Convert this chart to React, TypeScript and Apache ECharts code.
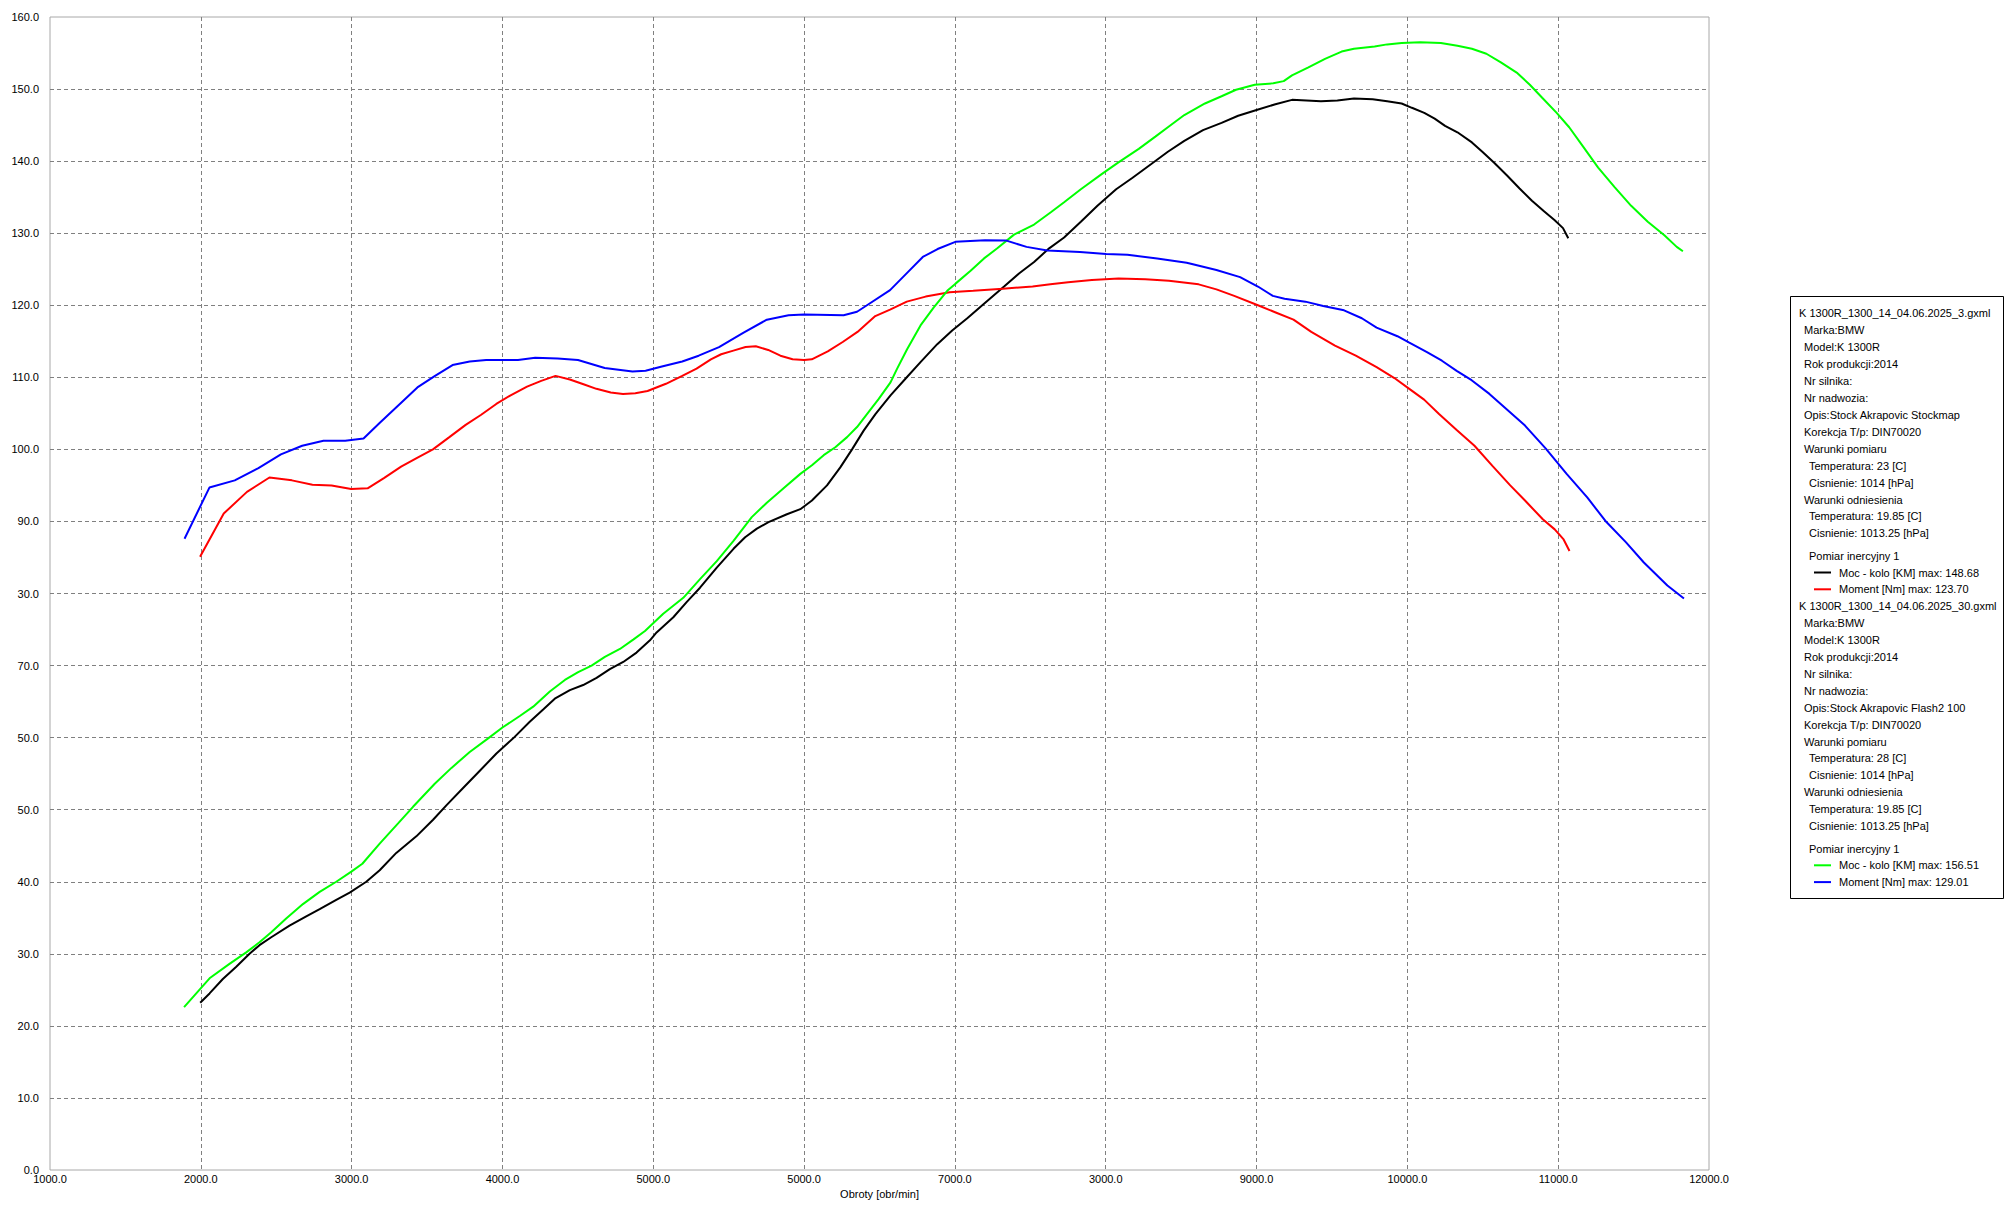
import React, { useEffect, useRef } from 'react';
import * as echarts from 'echarts';

// ---------- data ----------
const X_TICK_LABELS = ['1000.0', '2000.0', '3000.0', '4000.0', '5000.0', '5000.0', '7000.0', '3000.0', '9000.0', '10000.0', '11000.0', '12000.0'];
const Y_TICK_LABELS = ['0.0', '10.0', '20.0', '30.0', '40.0', '50.0', '50.0', '70.0', '30.0', '90.0', '100.0', '110.0', '120.0', '130.0', '140.0', '150.0', '160.0'];

// File 1 (Stockmap): power (black) and torque (red)
const POWER_1: [number, number][] = [
  [1996, 23.2], [2058, 24.5], [2146, 26.5], [2235, 28.2], [2323, 30.0], [2389, 31.2], [2467, 32.3], [2588, 33.9], [2699, 35.2], [2788, 36.2],
  [2898, 37.5], [2987, 38.5], [3097, 40.0], [3186, 41.6], [3296, 44.0], [3429, 46.3], [3540, 48.6], [3628, 50.6], [3739, 53.0], [3850, 55.4],
  [3960, 57.8], [4071, 59.9], [4181, 62.2], [4270, 63.9], [4347, 65.4], [4447, 66.6], [4535, 67.3], [4624, 68.3], [4712, 69.5], [4801, 70.5],
  [4889, 71.8], [4978, 73.5], [5022, 74.6], [5133, 76.7], [5221, 78.8], [5310, 80.8], [5421, 83.6], [5532, 86.2], [5609, 87.8], [5687, 89.0],
  [5764, 89.9], [5886, 91.0], [5975, 91.7], [6052, 92.9], [6152, 95.0], [6240, 97.5], [6318, 100.0], [6395, 102.6], [6473, 104.9], [6573, 107.5],
  [6672, 109.8], [6772, 112.1], [6883, 114.6], [6982, 116.5], [7082, 118.2], [7193, 120.2], [7326, 122.6], [7425, 124.4], [7525, 126.0], [7625, 127.9],
  [7724, 129.4], [7835, 131.6], [7945, 133.8], [8069, 136.1], [8178, 137.7], [8302, 139.6], [8412, 141.3], [8521, 142.8], [8645, 144.3], [8768, 145.3],
  [8878, 146.3], [9000, 147.1], [9125, 147.9], [9235, 148.5], [9331, 148.4], [9427, 148.3], [9536, 148.4], [9646, 148.68], [9770, 148.6], [9866, 148.3],
  [9962, 148.0], [10030, 147.4], [10112, 146.7], [10181, 145.9], [10250, 144.9], [10332, 144.0], [10428, 142.6], [10497, 141.3], [10579, 139.7], [10661, 138.0],
  [10744, 136.2], [10826, 134.5], [10908, 133.0], [10977, 131.8], [11032, 130.7], [11067, 129.3],
];

const TORQUE_1: [number, number][] = [
  [1995, 85.1], [2152, 91.1], [2306, 94.1], [2455, 96.1], [2604, 95.7], [2740, 95.1], [2867, 95.0], [2997, 94.5], [3106, 94.6], [3214, 96.0],
  [3328, 97.6], [3431, 98.8], [3539, 100.0], [3648, 101.7], [3756, 103.4], [3859, 104.8], [3959, 106.3], [4054, 107.5], [4163, 108.7], [4257, 109.5],
  [4352, 110.2], [4447, 109.7], [4542, 109.0], [4623, 108.4], [4718, 107.9], [4799, 107.7], [4881, 107.8], [4962, 108.1], [5084, 109.1], [5192, 110.2],
  [5287, 111.2], [5382, 112.5], [5450, 113.2], [5531, 113.7], [5612, 114.2], [5680, 114.3], [5762, 113.8], [5843, 113.0], [5924, 112.5], [6000, 112.4],
  [6051, 112.5], [6157, 113.6], [6256, 114.9], [6354, 116.3], [6472, 118.5], [6570, 119.4], [6681, 120.5], [6806, 121.2], [6964, 121.8], [7121, 122.0],
  [7318, 122.3], [7515, 122.6], [7633, 122.9], [7751, 123.2], [7908, 123.5], [8085, 123.7], [8262, 123.6], [8419, 123.4], [8616, 122.9], [8734, 122.2],
  [8852, 121.3], [9009, 120.0], [9127, 119.0], [9245, 118.0], [9363, 116.3], [9520, 114.4], [9658, 113.0], [9796, 111.4], [9914, 109.9], [10013, 108.4],
  [10111, 106.9], [10210, 104.9], [10327, 102.7], [10445, 100.5], [10564, 97.7], [10682, 95.0], [10780, 92.9], [10898, 90.3], [10977, 88.9], [11036, 87.5],
  [11075, 85.9],
];

// File 2 (Flash2 100): power (green) and torque (blue)
const POWER_2: [number, number][] = [
  [1889, 22.6], [2058, 26.6], [2190, 28.6], [2301, 30.2], [2389, 31.6], [2467, 33.0], [2566, 34.9], [2677, 36.9], [2788, 38.6], [2898, 40.0],
  [2998, 41.4], [3071, 42.5], [3186, 45.3], [3308, 48.1], [3407, 50.4], [3551, 53.6], [3662, 55.8], [3783, 58.0], [3905, 59.9], [4000, 61.4],
  [4115, 63.0], [4204, 64.3], [4314, 66.4], [4414, 68.0], [4502, 69.1], [4591, 70.0], [4679, 71.2], [4779, 72.3], [4867, 73.6], [4945, 74.8],
  [5066, 77.2], [5199, 79.4], [5310, 82.0], [5421, 84.5], [5532, 87.3], [5653, 90.6], [5753, 92.6], [5864, 94.6], [5975, 96.6], [6052, 97.8],
  [6130, 99.2], [6207, 100.3], [6285, 101.7], [6351, 103.1], [6417, 104.9], [6495, 107.0], [6573, 109.3], [6617, 111.2], [6683, 113.9], [6772, 117.2],
  [6860, 119.7], [6949, 122.0], [7004, 123.0], [7104, 124.8], [7193, 126.5], [7281, 127.9], [7392, 129.8], [7525, 131.2], [7636, 132.9], [7724, 134.3],
  [7835, 136.1], [7973, 138.2], [8082, 139.8], [8219, 141.7], [8329, 143.4], [8412, 144.7], [8521, 146.4], [8658, 148.0], [8768, 149.0], [8864, 149.9],
  [8988, 150.6], [9111, 150.8], [9180, 151.1], [9235, 151.9], [9344, 153.0], [9454, 154.2], [9564, 155.2], [9646, 155.6], [9783, 155.9], [9866, 156.2],
  [9962, 156.4], [10085, 156.51], [10222, 156.4], [10332, 156.0], [10428, 155.6], [10524, 154.9], [10620, 153.7], [10730, 152.2], [10812, 150.6], [10894, 148.8],
  [10990, 146.7], [11073, 144.7], [11169, 141.9], [11265, 139.1], [11374, 136.4], [11484, 133.8], [11594, 131.6], [11704, 129.7], [11786, 128.1], [11827, 127.5],
];

const TORQUE_2: [number, number][] = [
  [1892, 87.6], [2057, 94.7], [2225, 95.7], [2382, 97.4], [2531, 99.3], [2672, 100.5], [2813, 101.2], [2957, 101.2], [3079, 101.5], [3187, 103.7],
  [3309, 106.1], [3436, 108.6], [3553, 110.2], [3669, 111.7], [3783, 112.2], [3892, 112.4], [4103, 112.4], [4217, 112.7], [4366, 112.6], [4501, 112.4],
  [4678, 111.3], [4862, 110.8], [4949, 110.9], [5057, 111.5], [5192, 112.2], [5301, 113.0], [5436, 114.2], [5599, 116.2], [5753, 118.0], [5897, 118.6],
  [6000, 118.7], [6262, 118.6], [6351, 119.1], [6417, 120.0], [6570, 122.1], [6688, 124.6], [6787, 126.7], [6885, 127.8], [7003, 128.8], [7200, 129.01],
  [7337, 129.0], [7475, 128.1], [7613, 127.6], [7829, 127.4], [8003, 127.1], [8144, 127.0], [8341, 126.5], [8537, 125.9], [8734, 124.9], [8891, 123.9],
  [9009, 122.6], [9108, 121.3], [9186, 120.9], [9324, 120.5], [9442, 119.9], [9580, 119.3], [9698, 118.2], [9796, 116.9], [9934, 115.7], [10013, 114.8],
  [10130, 113.5], [10229, 112.3], [10327, 110.9], [10426, 109.6], [10544, 107.7], [10662, 105.5], [10780, 103.3], [10918, 100.1], [11056, 96.6], [11194, 93.3],
  [11312, 90.1], [11450, 87.1], [11568, 84.3], [11724, 81.1], [11834, 79.3],
];

const SERIES_NAMES = ['Moc - kolo [KM] max: 148.68', 'Moment [Nm] max: 123.70', 'Moc - kolo [KM] max: 156.51', 'Moment [Nm] max: 129.01'];
const SERIES_COLORS = ['#000000', '#ff0000', '#00ff00', '#0000ff'];

// Legend info blocks: [indent level, text]
const INFO_1: [number, string][] = [
  [0, 'K 1300R_1300_14_04.06.2025_3.gxml'],
  [1, 'Marka:BMW'],
  [1, 'Model:K 1300R'],
  [1, 'Rok produkcji:2014'],
  [1, 'Nr silnika:'],
  [1, 'Nr nadwozia:'],
  [1, 'Opis:Stock Akrapovic Stockmap'],
  [1, 'Korekcja T/p: DIN70020'],
  [1, 'Warunki pomiaru'],
  [2, 'Temperatura: 23 [C]'],
  [2, 'Cisnienie: 1014 [hPa]'],
  [1, 'Warunki odniesienia'],
  [2, 'Temperatura: 19.85 [C]'],
  [2, 'Cisnienie: 1013.25 [hPa]'],
];
const INFO_2: [number, string][] = [
  [0, 'K 1300R_1300_14_04.06.2025_30.gxml'],
  [1, 'Marka:BMW'],
  [1, 'Model:K 1300R'],
  [1, 'Rok produkcji:2014'],
  [1, 'Nr silnika:'],
  [1, 'Nr nadwozia:'],
  [1, 'Opis:Stock Akrapovic Flash2 100'],
  [1, 'Korekcja T/p: DIN70020'],
  [1, 'Warunki pomiaru'],
  [2, 'Temperatura: 28 [C]'],
  [2, 'Cisnienie: 1014 [hPa]'],
  [1, 'Warunki odniesienia'],
  [2, 'Temperatura: 19.85 [C]'],
  [2, 'Cisnienie: 1013.25 [hPa]'],
];
const MEASURE_LABEL = 'Pomiar inercyjny 1';
const X_NAME = 'Obroty [obr/min]';

// ---------- layout ----------
const W = 2010;
const H = 1209;
const FONT = 'Liberation Sans, Arial, sans-serif';

function textEl(x: number, y: number, text: string) {
  return {
    type: 'text',
    x,
    y,
    silent: true,
    style: {
      text,
      fill: '#000',
      font: `11px ${FONT}`,
      align: 'left',
      textAlign: 'left',
      verticalAlign: 'middle',
      textVerticalAlign: 'middle',
    },
  };
}

function buildLegend() {
  const els: any[] = [];
  els.push({
    type: 'rect',
    silent: true,
    shape: { x: 1790.5, y: 296.5, width: 213, height: 602 },
    style: { fill: '#fff', stroke: '#000', lineWidth: 1 },
  });
  const indentX = [1799, 1804, 1809];
  const lineH = 16.93;
  const blocks = [
    { info: INFO_1, y0: 313.3, series: [0, 1] },
    { info: INFO_2, y0: 606.1, series: [2, 3] },
  ];
  blocks.forEach((b) => {
    b.info.forEach(([lvl, t], i) => {
      els.push(textEl(indentX[lvl], b.y0 + i * lineH, t));
    });
    els.push(textEl(indentX[2], b.y0 + 242.4, MEASURE_LABEL));
    b.series.forEach((si, k) => {
      const y = b.y0 + 259.2 + k * 16.8;
      els.push({
        type: 'line',
        silent: true,
        shape: { x1: 1814, y1: y, x2: 1831, y2: y },
        style: { stroke: SERIES_COLORS[si], lineWidth: 2 },
      });
      els.push(textEl(1839, y, SERIES_NAMES[si]));
    });
  });
  return els;
}

const DATA = [POWER_1, TORQUE_1, POWER_2, TORQUE_2];

export default function App() {
  const ref = useRef<HTMLDivElement>(null);
  useEffect(() => {
    document.body.style.margin = '0';
    if (!ref.current) return;
    const chart = echarts.init(ref.current, undefined, { renderer: 'svg', width: W, height: H });
    const splitLine = {
      show: true,
      showMinLine: false,
      showMaxLine: false,
      lineStyle: { color: '#808080', width: 1, type: [4, 3] as any },
    };
    const labelStyle = { color: '#000', fontFamily: FONT, fontSize: 11 };
    chart.setOption({
      animation: false,
      backgroundColor: '#ffffff',
      grid: {
        left: 50,
        right: W - 1709,
        top: 17,
        bottom: H - 1170,
        show: true,
        borderColor: '#a8a8a8',
        borderWidth: 1,
        backgroundColor: 'transparent',
        containLabel: false,
      },
      xAxis: {
        type: 'value',
        min: 1000,
        max: 12000,
        interval: 1000,
        axisLine: { show: false },
        axisTick: { show: false },
        splitLine,
        axisLabel: {
          ...labelStyle,
          margin: 3,
          formatter: (v: number) => X_TICK_LABELS[Math.round((v - 1000) / 1000)] ?? '',
        },
        name: X_NAME,
        nameLocation: 'middle',
        nameGap: 17,
        nameTextStyle: { ...labelStyle },
      },
      yAxis: {
        type: 'value',
        min: 0,
        max: 160,
        interval: 10,
        axisLine: { show: false },
        axisTick: { show: false },
        splitLine,
        axisLabel: {
          ...labelStyle,
          margin: 11,
          formatter: (v: number) => Y_TICK_LABELS[Math.round(v / 10)] ?? '',
        },
      },
      series: DATA.map((d, i) => ({
        name: SERIES_NAMES[i],
        type: 'line',
        data: d,
        symbol: 'none',
        showSymbol: false,
        smooth: false,
        silent: true,
        lineStyle: { color: SERIES_COLORS[i], width: 2 },
        itemStyle: { color: SERIES_COLORS[i] },
        z: 2 + i,
      })),
      graphic: buildLegend(),
    });
    return () => chart.dispose();
  }, []);
  return <div ref={ref} style={{ width: W, height: H }} />;
}
